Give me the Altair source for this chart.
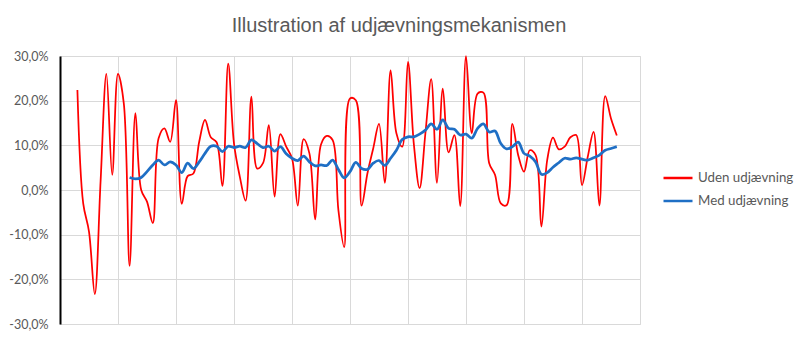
import altair as alt
import pandas as pd

title_text = "Illustration af udjævningsmekanismen"
series_names = ["Uden udjævning", "Med udjævning"]
series_colors = ["#FF0000", "#1F6FC5"]

# Period numbers (category positions on the x axis, 0..100)
red_periods = list(range(3, 97))
blue_periods = list(range(12, 97))

# Values in percent
red_values = [
    22.4, -3.0, -9.3, -23.3, 2.0, 26.0, 3.4, 26.0, 19.4, -17.0,
    17.2, 0.0, -2.6, -7.4, 11.6, 13.8, 10.8, 20.1, -3.1, 3.1,
    3.7, 10.8, 15.7, 11.8, 10.7, 0.9, 28.3, 10.4, 3.0, -2.4,
    20.9, 4.8, 6.0, 14.5, -1.5, 12.5, 9.7, 7.1, -3.5, 11.4,
    8.2, -6.6, 10.2, 12.1, 11.2, -4.5, -12.8, 20.5, 20.1, -3.5,
    3.7, 9.3, 14.8, 1.6, 26.8, 12.7, 9.7, 28.7, 10.4, 0.4,
    12.7, 24.8, 1.6, 22.7, 8.4, 12.3, -3.6, 30.0, 12.7, 21.6,
    21.8, 6.0, 3.4, -3.0, -3.4, 14.8, 7.8, 4.1, 8.9, 7.8,
    -8.2, 6.7, 11.7, 9.1, 9.7, 11.8, 12.3, 1.1, 7.5, 13.0,
    -3.5, 21.0, 16.0, 12.2,
]
blue_values = [
    2.8, 2.5, 2.8, 4.1, 5.6, 6.7, 5.6, 6.3, 5.6, 3.9,
    6.0, 4.8, 6.3, 8.2, 9.8, 9.8, 8.6, 9.8, 9.5, 9.8,
    9.5, 11.2, 10.4, 9.5, 9.8, 8.7, 9.7, 8.1, 7.1, 6.6,
    7.6, 6.3, 5.4, 5.6, 5.5, 6.7, 4.6, 2.7, 4.1, 6.2,
    4.8, 4.6, 6.0, 6.6, 5.5, 7.1, 8.9, 11.3, 11.9, 11.9,
    12.5, 13.4, 14.8, 13.6, 15.7, 13.8, 13.6, 12.3, 12.5, 11.6,
    13.8, 14.8, 13.0, 13.2, 10.4, 9.2, 9.7, 10.7, 8.2, 7.6,
    6.3, 3.5, 3.9, 5.1, 6.1, 7.1, 6.9, 7.2, 6.9, 6.7,
    7.2, 7.8, 8.9, 9.3, 9.7,
]
y_ticks = [-0.3, -0.2, -0.1, 0.0, 0.1, 0.2, 0.3]
x_grid = list(range(0, 101, 10))

red_df = pd.DataFrame({"period": red_periods,
                       "value": [v / 100 for v in red_values],
                       "series": series_names[0]})
blue_df = pd.DataFrame({"period": blue_periods,
                        "value": [v / 100 for v in blue_values],
                        "series": series_names[1]})

x_enc = alt.X("period:Q",
              scale=alt.Scale(domain=[0, 100], nice=False, zero=False),
              axis=alt.Axis(values=x_grid, labels=False, ticks=False,
                            domain=False, title=None, grid=True,
                            gridColor="#D9D9D9", gridWidth=1))
y_enc = alt.Y("value:Q",
              scale=alt.Scale(domain=[-0.3, 0.3], nice=False),
              axis=alt.Axis(values=y_ticks, title=None, ticks=False,
                            domain=True, domainColor="#000000", domainWidth=2,
                            grid=True, gridColor="#D9D9D9", gridWidth=1,
                            labelExpr="replace(replace(format(datum.value, '.1%'), '.', ','), '\u2212', '-')",
                            labelFont="Lato", labelFontSize=12.5,
                            labelColor="#595959", labelPadding=12))
color_enc = alt.Color("series:N",
                      scale=alt.Scale(domain=series_names, range=series_colors),
                      legend=alt.Legend(title=None, orient="none",
                                        legendX=602, legendY=106,
                                        symbolType="stroke", symbolSize=841,
                                        symbolStrokeWidth=2.5,
                                        labelFont="Lato", labelFontSize=13.3,
                                        labelColor="#595959", labelOffset=4,
                                        rowPadding=0))

red_line = alt.Chart(red_df).mark_line(
    interpolate="catmull-rom", strokeWidth=1.75
).encode(x=x_enc, y=y_enc, color=color_enc)

blue_line = alt.Chart(blue_df).mark_line(
    interpolate="catmull-rom", strokeWidth=2.75
).encode(x=x_enc, y=y_enc, color=color_enc)

chart = alt.layer(red_line, blue_line).properties(
    width=580, height=268,
    autosize=alt.AutoSizeParams(type="none"),
    padding={"left": 60, "top": 56, "right": 160, "bottom": 17},
    title=alt.TitleParams(title_text, anchor="middle", dx=49,
                          font="Liberation Sans", fontSize=20,
                          fontWeight="normal", color="#595959", offset=14),
).configure_view(strokeWidth=0).configure(background="#FFFFFF")

chart.save("out.html", embed_options={"renderer": "svg", "actions": False})
